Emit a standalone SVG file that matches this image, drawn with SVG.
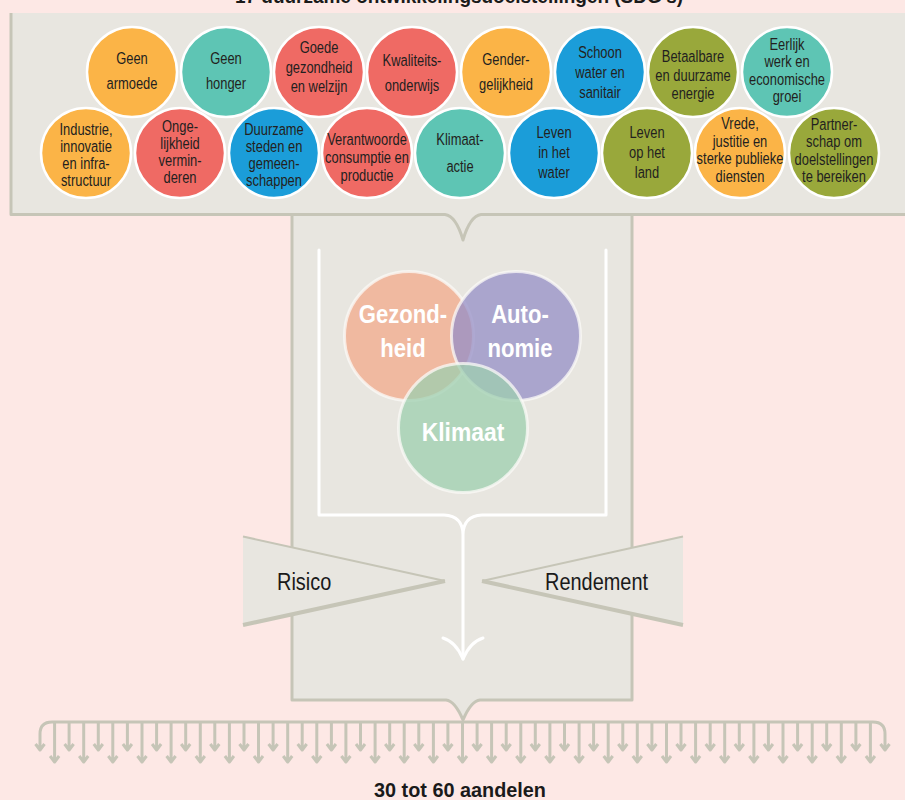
<svg xmlns="http://www.w3.org/2000/svg" xmlns:xlink="http://www.w3.org/1999/xlink" width="905" height="800" viewBox="0 0 905 800">
<style>
.bg{fill:#fde8e5}
.panel{fill:#e8e6e0}
.bord{fill:none;stroke:#c6c5b7;stroke-width:3;stroke-linejoin:round}
.sdg circle{stroke:#fff;stroke-width:2.5}
.sdg text{font-family:"Liberation Sans",Arial,sans-serif;font-size:17px;fill:#231f20;text-anchor:middle}
.or{fill:#fbb447}.te{fill:#5ec5b4}.re{fill:#ef6a64}.bl{fill:#1b9dd9}.ol{fill:#99a83b}
.venn circle{stroke:#fbfaf7;stroke-opacity:.75;stroke-width:3}
.venn text{font-family:"Liberation Sans",Arial,sans-serif;font-weight:bold;font-size:26px;fill:#fff;text-anchor:middle}
.lbl{font-family:"Liberation Sans",Arial,sans-serif;font-size:24px;fill:#1a1a1a}
.ttl{font-family:"Liberation Sans",Arial,sans-serif;font-weight:bold;fill:#1a1a1a;text-anchor:middle}
.wl{fill:none;stroke:#fff;stroke-width:3;stroke-linecap:round;stroke-linejoin:round}
.cb{fill:none;stroke:#c6c5b7;stroke-width:3;stroke-linejoin:round}
</style>
<defs>
<path id="sa" d="M0,722 V750 M-4.5,744 L0,750 L4.5,744"/>
<path id="la" d="M0,722 V762 M-4.5,756 L0,762 L4.5,756"/>
</defs>
<rect class="bg" x="0" y="0" width="905" height="800"/>
<text class="ttl" x="459" y="3" font-size="20" textLength="448" lengthAdjust="spacingAndGlyphs">17 duurzame ontwikkelingsdoelstellingen (SDG's)</text>

<g id="funnel">
<path class="panel" d="M292,214 V700 H446 Q455,701 463,720 Q471,701 480,700 H632 V214 Z"/>
<path class="bord" d="M292,214 V700 H446 Q455,701 463,720 Q471,701 480,700 H632 V214"/>
</g>
<g id="sdg-panel">
<path class="panel" d="M10,13 H905 V215 H481 Q470,216 463,240 Q456,216 445,215 H10 Z"/>
<path class="bord" d="M11,13 V214.5 H445 Q456,216 463,240 Q470,216 481,214.5 H905"/>
</g>

<g class="sdg">
<g id="sdg1"><circle class="or" cx="132" cy="72" r="45"/><g transform="translate(132 0) scale(0.76 1)"><text x="0" y="64">Geen</text><text x="0" y="89">armoede</text></g></g>
<g id="sdg2"><circle class="te" cx="226" cy="72" r="45"/><g transform="translate(226 0) scale(0.76 1)"><text x="0" y="64">Geen</text><text x="0" y="89">honger</text></g></g>
<g id="sdg3"><circle class="re" cx="319" cy="72" r="45"/><g transform="translate(319 0) scale(0.76 1)"><text x="0" y="53">Goede</text><text x="0" y="73">gezondheid</text><text x="0" y="92">en welzijn</text></g></g>
<g id="sdg4"><circle class="re" cx="412" cy="72" r="45"/><g transform="translate(412 0) scale(0.76 1)"><text x="0" y="66">Kwaliteits-</text><text x="0" y="91">onderwijs</text></g></g>
<g id="sdg5"><circle class="or" cx="506" cy="72" r="45"/><g transform="translate(506 0) scale(0.76 1)"><text x="0" y="65">Gender-</text><text x="0" y="90">gelijkheid</text></g></g>
<g id="sdg6"><circle class="bl" cx="600" cy="72" r="45"/><g transform="translate(600 0) scale(0.76 1)"><text x="0" y="58">Schoon</text><text x="0" y="78">water en</text><text x="0" y="98">sanitair</text></g></g>
<g id="sdg7"><circle class="ol" cx="693" cy="72" r="45"/><g transform="translate(693 0) scale(0.76 1)"><text x="0" y="62">Betaalbare</text><text x="0" y="81">en duurzame</text><text x="0" y="99">energie</text></g></g>
<g id="sdg8"><circle class="te" cx="787" cy="72" r="45"/><g transform="translate(787 0) scale(0.76 1)"><text x="0" y="50">Eerlijk</text><text x="0" y="67">werk en</text><text x="0" y="85">economische</text><text x="0" y="102">groei</text></g></g>
<g id="sdg9"><circle class="or" cx="86" cy="153" r="45"/><g transform="translate(86 0) scale(0.76 1)"><text x="0" y="135">Industrie,</text><text x="0" y="152">innovatie</text><text x="0" y="169">en infra-</text><text x="0" y="186">structuur</text></g></g>
<g id="sdg10"><circle class="re" cx="180" cy="153" r="45"/><g transform="translate(180 0) scale(0.76 1)"><text x="0" y="132">Onge-</text><text x="0" y="149">lijkheid</text><text x="0" y="166">vermin-</text><text x="0" y="183">deren</text></g></g>
<g id="sdg11"><circle class="bl" cx="274" cy="153" r="45"/><g transform="translate(274 0) scale(0.76 1)"><text x="0" y="135">Duurzame</text><text x="0" y="152">steden en</text><text x="0" y="169">gemeen-</text><text x="0" y="186">schappen</text></g></g>
<g id="sdg12"><circle class="re" cx="367" cy="153" r="45"/><g transform="translate(367 0) scale(0.76 1)"><text x="0" y="145">Verantwoorde</text><text x="0" y="163">consumptie en</text><text x="0" y="181">productie</text></g></g>
<g id="sdg13"><circle class="te" cx="460" cy="153" r="45"/><g transform="translate(460 0) scale(0.76 1)"><text x="0" y="145">Klimaat-</text><text x="0" y="172">actie</text></g></g>
<g id="sdg14"><circle class="bl" cx="554" cy="153" r="45"/><g transform="translate(554 0) scale(0.76 1)"><text x="0" y="138">Leven</text><text x="0" y="158">in het</text><text x="0" y="178">water</text></g></g>
<g id="sdg15"><circle class="ol" cx="647" cy="153" r="45"/><g transform="translate(647 0) scale(0.76 1)"><text x="0" y="138">Leven</text><text x="0" y="158">op het</text><text x="0" y="178">land</text></g></g>
<g id="sdg16"><circle class="or" cx="740" cy="153" r="45"/><g transform="translate(740 0) scale(0.76 1)"><text x="0" y="129">Vrede,</text><text x="0" y="147">justitie en</text><text x="0" y="164">sterke publieke</text><text x="0" y="182">diensten</text></g></g>
<g id="sdg17"><circle class="ol" cx="834" cy="153" r="45"/><g transform="translate(834 0) scale(0.76 1)"><text x="0" y="130">Partner-</text><text x="0" y="147">schap om</text><text x="0" y="165">doelstellingen</text><text x="0" y="182">te bereiken</text></g></g>
</g>

<g class="venn">
<g id="gezondheid"><circle cx="409" cy="336" r="64.5" fill="#f3aa8b" fill-opacity=".75"/></g>
<g id="autonomie"><circle cx="516" cy="336" r="64.5" fill="#958fc7" fill-opacity=".75"/></g>
<g id="klimaat"><circle cx="463" cy="428" r="64.5" fill="#9dcfaf" fill-opacity=".75"/></g>
<g transform="translate(403 0) scale(0.85 1)"><text x="0" y="323">Gezond-</text><text x="0" y="357">heid</text></g>
<g transform="translate(520 0) scale(0.85 1)"><text x="0" y="323">Auto-</text><text x="0" y="357">nomie</text></g>
<g transform="translate(463 0) scale(0.88 1)"><text x="0" y="441">Klimaat</text></g>
</g>

<g id="connectors">
<path class="wl" d="M319,250 V515 H444 Q463,516 463,535 M606,250 V515 H482 Q463,516 463,535 V659"/>
<path class="wl" d="M443,638 Q456,642 463,659 Q470,642 483,638"/>
<g class="cb">
<path d="M40,750 V734 Q40,722 52,722 H873 Q885,722 885,734 V750 M35.5,744 L40,750 L44.5,744 M880.5,744 L885,750 L889.5,744"/>
<use href="#la" x="54.6"/><use href="#sa" x="69.1"/><use href="#la" x="83.7"/><use href="#sa" x="98.3"/><use href="#la" x="112.8"/><use href="#sa" x="127.4"/><use href="#la" x="142.0"/><use href="#sa" x="156.6"/><use href="#la" x="171.1"/><use href="#sa" x="185.7"/><use href="#la" x="200.3"/><use href="#sa" x="214.8"/><use href="#la" x="229.4"/><use href="#sa" x="244.0"/><use href="#la" x="258.5"/><use href="#sa" x="273.1"/><use href="#la" x="287.7"/><use href="#sa" x="302.2"/><use href="#la" x="316.8"/><use href="#sa" x="331.4"/><use href="#la" x="345.9"/><use href="#sa" x="360.5"/><use href="#la" x="375.1"/><use href="#sa" x="389.7"/><use href="#la" x="404.2"/><use href="#sa" x="418.8"/><use href="#la" x="433.4"/><use href="#sa" x="447.9"/><use href="#la" x="462.5"/><use href="#sa" x="477.1"/><use href="#la" x="491.6"/><use href="#sa" x="506.2"/><use href="#la" x="520.8"/><use href="#sa" x="535.3"/><use href="#la" x="549.9"/><use href="#sa" x="564.5"/><use href="#la" x="579.1"/><use href="#sa" x="593.6"/><use href="#la" x="608.2"/><use href="#sa" x="622.8"/><use href="#la" x="637.3"/><use href="#sa" x="651.9"/><use href="#la" x="666.5"/><use href="#sa" x="681.0"/><use href="#la" x="695.6"/><use href="#sa" x="710.2"/><use href="#la" x="724.7"/><use href="#sa" x="739.3"/><use href="#la" x="753.9"/><use href="#sa" x="768.4"/><use href="#la" x="783.0"/><use href="#sa" x="797.6"/><use href="#la" x="812.2"/><use href="#sa" x="826.7"/><use href="#la" x="841.3"/><use href="#sa" x="855.9"/><use href="#la" x="870.4"/>
</g>
</g>

<g id="risico">
<path class="panel" d="M243,536 L445,581 L243,626 Z"/>
<path fill="none" stroke="#c6c5b7" stroke-width="2" d="M243,536.5 L445,581"/>
<path fill="none" stroke="#c6c5b7" stroke-width="4" d="M243,625 L445,581"/>
<g transform="translate(277 0) scale(0.83 1)"><text class="lbl" x="0" y="590">Risico</text></g>
</g>
<g id="rendement">
<path class="panel" d="M683,536 L482,581 L683,626 Z"/>
<path fill="none" stroke="#c6c5b7" stroke-width="2" d="M683,536.5 L482,581"/>
<path fill="none" stroke="#c6c5b7" stroke-width="4" d="M683,625 L482,581"/>
<g transform="translate(648 0) scale(0.83 1)"><text class="lbl" x="0" y="590" text-anchor="end">Rendement</text></g>
</g>

<text class="ttl" x="460" y="797" font-size="21" textLength="172" lengthAdjust="spacingAndGlyphs">30 tot 60 aandelen</text>
</svg>
